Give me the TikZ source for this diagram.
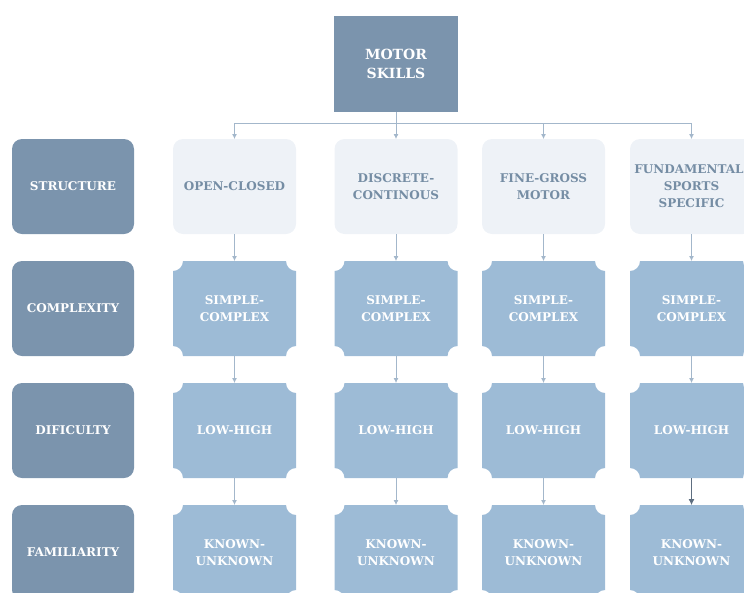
\documentclass[tikz,border=0pt]{standalone}
\usepackage{fontspec}
\setmainfont{DejaVu Serif}
\usetikzlibrary{backgrounds,arrows.meta}

\definecolor{slate}{HTML}{7B94AD}
\definecolor{sky}{HTML}{9DBBD6}
\definecolor{mist}{HTML}{EEF2F7}
\definecolor{wire}{HTML}{A3B7CB}
\definecolor{darkwire}{HTML}{5E6E80}

% box with the four corners cut inward (concave quarter circles)
\newcommand{\notchpath}[1]{%
  ([xshift=10pt]#1.north west) -- ([xshift=-10pt]#1.north east)
  arc[start angle=180, end angle=270, radius=10pt]
  -- ([yshift=10pt]#1.south east)
  arc[start angle=90, end angle=180, radius=10pt]
  -- ([xshift=10pt]#1.south west)
  arc[start angle=0, end angle=90, radius=10pt]
  -- ([yshift=-10pt]#1.north west)
  arc[start angle=270, end angle=360, radius=10pt] -- cycle}

\begin{document}
\begin{tikzpicture}[
  x=1pt, y=1pt,
  every node/.style={inner sep=0pt, outer sep=0pt, align=center,
    font=\fontsize{12}{17}\selectfont\bfseries},
  root/.style={rectangle, fill=slate, text=white,
    minimum width=124pt, minimum height=96pt,
    font=\fontsize{14}{19}\selectfont\bfseries},
  rowlabel/.style={rectangle, rounded corners=10pt, fill=slate, text=white,
    minimum width=122pt, minimum height=95pt},
  kind/.style={rectangle, rounded corners=10pt, fill=mist, text=slate!95!black,
    minimum width=123pt, minimum height=95pt},
  notch/.style={rectangle, text=white,
    minimum width=123pt, minimum height=95pt},
  link/.style={draw=wire, line width=0.8pt},
  arrow/.style={draw=wire, line width=0.8pt, -{Latex[length=5pt,width=5pt]}},
  darrow/.style={draw=darkwire, line width=0.8pt, -{Latex[length=6pt,width=6pt]}}]

  \clip (0,0) rectangle (744,-592);

  % top
  \node[root] (motor) at (396,-64) {MOTOR\\SKILLS};

  % row labels
  \node[rowlabel] (structure)   at (73,-186.5) {STRUCTURE};
  \node[rowlabel] (complexity)  at (73,-308.5) {COMPLEXITY};
  \node[rowlabel] (difficulty)  at (73,-430.5) {DIFICULTY};
  \node[rowlabel] (familiarity) at (73,-552.5) {FAMILIARITY};

  % structure row
  \node[kind] (openclosed) at (234.5,-186.5) {OPEN-CLOSED};
  \node[kind] (discrete)   at (396,-186.5)   {DISCRETE-\\CONTINOUS};
  \node[kind] (finegross)  at (543.5,-186.5) {FINE-GROSS\\MOTOR};
  \node[kind] (fundament)  at (691.5,-186.5) {FUNDAMENTAL-\\SPORTS\\SPECIFIC};

  % complexity row
  \node[notch] (cxa) at (234.5,-308.5) {SIMPLE-\\COMPLEX};
  \node[notch] (cxb) at (396,-308.5)   {SIMPLE-\\COMPLEX};
  \node[notch] (cxc) at (543.5,-308.5) {SIMPLE-\\COMPLEX};
  \node[notch] (cxd) at (691.5,-308.5) {SIMPLE-\\COMPLEX};

  % difficulty row
  \node[notch] (dfa) at (234.5,-430.5) {LOW-HIGH};
  \node[notch] (dfb) at (396,-430.5)   {LOW-HIGH};
  \node[notch] (dfc) at (543.5,-430.5) {LOW-HIGH};
  \node[notch] (dfd) at (691.5,-430.5) {LOW-HIGH};

  % familiarity row
  \node[notch] (fma) at (234.5,-552.5) {KNOWN-\\UNKNOWN};
  \node[notch] (fmb) at (396,-552.5)   {KNOWN-\\UNKNOWN};
  \node[notch] (fmc) at (543.5,-552.5) {KNOWN-\\UNKNOWN};
  \node[notch] (fmd) at (691.5,-552.5) {KNOWN-\\UNKNOWN};

  \begin{pgfonlayer}{background}
    \foreach \n in {cxa,cxb,cxc,cxd,dfa,dfb,dfc,dfd,fma,fmb,fmc,fmd}
      \fill[sky] \notchpath{\n};
  \end{pgfonlayer}

  % bus from the top box
  \coordinate (bus) at (396,-123);
  \draw[link] (motor) -- (bus);
  \draw[link] (openclosed.north |- bus) -- (fundament.north |- bus);
  \draw[arrow] (openclosed.north |- bus) -- (openclosed);
  \draw[arrow] (bus) -- (discrete);
  \draw[arrow] (finegross.north |- bus) -- (finegross);
  \draw[arrow] (fundament.north |- bus) -- (fundament);

  % column arrows
  \draw[arrow] (openclosed) -- (cxa);
  \draw[arrow] (discrete)   -- (cxb);
  \draw[arrow] (finegross)  -- (cxc);
  \draw[arrow] (fundament)  -- (cxd);
  \draw[arrow] (cxa) -- (dfa);
  \draw[arrow] (cxb) -- (dfb);
  \draw[arrow] (cxc) -- (dfc);
  \draw[arrow] (cxd) -- (dfd);
  \draw[arrow] (dfa) -- (fma);
  \draw[arrow] (dfb) -- (fmb);
  \draw[arrow] (dfc) -- (fmc);
  \draw[darrow] (dfd) -- (fmd);
\end{tikzpicture}
\end{document}
